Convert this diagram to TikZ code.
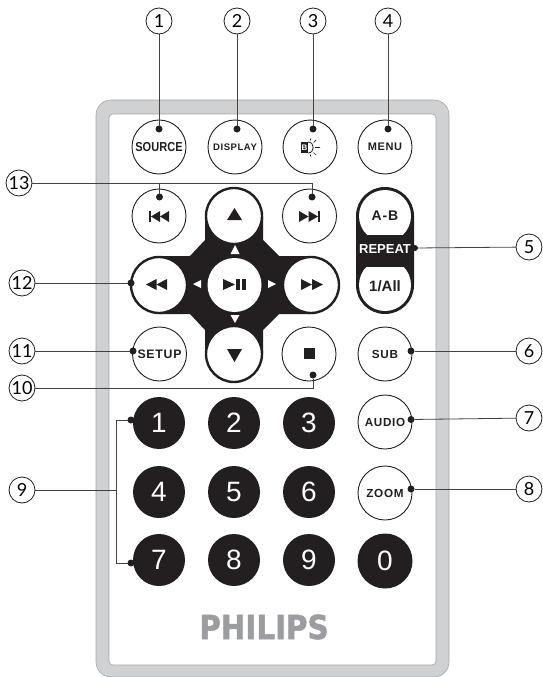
\documentclass[tikz,border=0pt]{standalone}
\usepackage{fontspec}
\setmainfont{Liberation Sans}
\newfontfamily\callfont{Lato}
\newfontfamily\brandfont[FakeBold=1.6]{DejaVu Sans Bold}
\newfontfamily\spacedfont[LetterSpace=6,BoldFont={Liberation Sans Bold}]{Liberation Sans}
\newcommand{\fsz}[1]{\fontsize{#1}{#1}\selectfont}
\definecolor{ink}{HTML}{231F20}
\definecolor{band}{HTML}{D0D1D3}
\definecolor{bandedge}{HTML}{A4A5A8}
\definecolor{brand}{HTML}{9B9DA0}
\tikzset{
  callout/.style={circle,draw=ink,line width=0.8pt,fill=white,minimum size=26pt,inner sep=0pt,outer sep=0pt,font=\callfont\fsz{18}},
  btn/.style={circle,draw=ink,line width=0.9pt,fill=white,minimum size=54pt,inner sep=0pt,outer sep=0pt,text=ink,font=\spacedfont\bfseries\fsz{11.7}},
  thickbtn/.style={btn,line width=2.4pt,minimum size=56pt},
  numbtn/.style={circle,fill=ink,minimum size=52pt,inner sep=0pt,outer sep=0pt,text=white,font=\fsz{28}},
  pin/.style={circle,fill=ink,minimum size=7pt,inner sep=0pt,outer sep=0pt},
  lead/.style={draw=ink!85,line width=0.8pt},
  glyph/.style={fill=ink,draw=none},
  wglyph/.style={fill=white,draw=none},
}
\begin{document}
\begin{tikzpicture}[x=1pt,y=-1pt]
\useasboundingbox (0,0) rectangle (542,677);
% body
\draw[draw=bandedge,fill=band,line width=0.6pt,rounded corners=15pt] (96,100) rectangle (449,677);
\draw[draw=bandedge,fill=white,line width=0.6pt,rounded corners=4pt] (109,114) rectangle (436,665);
% d-pad backing
\fill[ink] (205,216) -- (263,216) -- (263,240) -- (279,256) -- (311,256) -- (311,314) -- (279,314) -- (263,330) -- (263,354) -- (205,354) -- (205,330) -- (190,314) -- (159,314) -- (159,256) -- (190,256) -- (205,240) -- cycle;
% repeat key
\fill[ink,rounded corners=28.9pt] (356,187) rectangle (414,314);
\begin{scope}
  \clip (350,180) rectangle (420,234);
  \fill[white] (385,216) circle[radius=26];
\end{scope}
\begin{scope}
  \clip (350,267) rectangle (420,320);
  \fill[white] (385,285) circle[radius=26];
\end{scope}
\node[text=ink,font=\spacedfont\bfseries\fsz{14}] (ab) at (385,216) {A-B};
\node[text=white,font=\bfseries\fsz{13}] (repeat) at (385,249.5) {REPEAT};
\node[text=ink,font=\bfseries\fsz{15}] (onall) at (385,286) {1/All};
% keys
\node[btn,font=\bfseries\fsz{13}] (source) at (159,147) {\scalebox{0.85}[1]{SOURCE}};
\node[btn,font=\spacedfont\bfseries\fsz{9.5}] (display) at (235,147) {DISPLAY};
\node[btn] (light) at (310,147) {};
\node[btn,font=\spacedfont\bfseries\fsz{11}] (menu) at (385,147) {MENU};
\node[btn] (prev) at (159,216) {};
\node[thickbtn] (up) at (234,216) {};
\node[btn] (next) at (309.5,216) {};
\node[thickbtn] (left) at (159,285) {};
\node[btn,draw=none,minimum size=54pt] (play) at (234.5,285) {};
\node[thickbtn] (right) at (311,285) {};
\node[btn,font=\spacedfont\bfseries\fsz{12.3}] (setup) at (159.5,354) {SETUP};
\node[thickbtn] (down) at (234,354) {};
\node[btn] (stop) at (309,354) {};
\node[btn] (sub) at (385,354) {SUB};
\node[btn] (audio) at (385,422) {AUDIO};
\node[btn] (zoom) at (385,493) {ZOOM};
% number keys
\node[numbtn] (n1) at (159,423) {1};
\node[numbtn] (n2) at (234,423) {2};
\node[numbtn] (n3) at (309,423) {3};
\node[numbtn] (n4) at (159,492) {4};
\node[numbtn] (n5) at (234,492) {5};
\node[numbtn] (n6) at (309,492) {6};
\node[numbtn] (n7) at (159,560) {7};
\node[numbtn] (n8) at (234,560) {8};
\node[numbtn] (n9) at (309,560) {9};
\node[numbtn,minimum size=55pt] (n0) at (385,561) {0};
% brand
\node[text=brand,font=\brandfont\fsz{33}] (brandname) at (264,627) {\scalebox{0.89}[1]{PHILIPS}};
% glyphs
\fill[glyph] (301,142) rectangle (308,153);
\node[text=white,font=\bfseries\fsz{8}] (bulb) at (304.5,147.7) {B};
\draw[ink,line width=0.8pt] (308,142) .. controls (315,142) and (315,153) .. (308,153);
\draw[ink,line width=0.7pt] (313.5,142.5) -- (316,140) (315,147.5) -- (320,147.5) (313.5,152.5) -- (316,155) (310,140.5) -- (311,138.5) (310,154.5) -- (311,156.5);
\fill[glyph] (149,211) rectangle (151,222);
\fill[glyph] (160,211) -- (151,216.5) -- (160,222) -- cycle;
\fill[glyph] (169,211) -- (160,216.5) -- (169,222) -- cycle;
\fill[glyph] (318,211) rectangle (320,222);
\fill[glyph] (299,211) -- (308.5,216.5) -- (299,222) -- cycle;
\fill[glyph] (308.5,211) -- (318,216.5) -- (308.5,222) -- cycle;
\fill[glyph] (227,220) -- (234.5,208) -- (242,220) -- cycle;
\fill[glyph] (227,349) -- (242,349) -- (234.5,362) -- cycle;
\fill[glyph] (304,348) rectangle (315,358.5);
\fill[glyph] (156.5,279) -- (146,284.5) -- (156.5,290) -- cycle;
\fill[glyph] (167,279) -- (156.5,284.5) -- (167,290) -- cycle;
\fill[glyph] (301,279) -- (312,284.5) -- (301,290) -- cycle;
\fill[glyph] (312,279) -- (323,284.5) -- (312,290) -- cycle;
\fill[glyph] (223,279) -- (235,284.5) -- (223,290) -- cycle;
\fill[glyph] (236,279) rectangle (239.5,290);
\fill[glyph] (242,279) rectangle (246,290);
\fill[wglyph] (230.5,254) -- (235,245) -- (239.5,254) -- cycle;
\fill[wglyph] (230.5,315) -- (239.5,315) -- (235,323) -- cycle;
\fill[wglyph] (201,280) -- (193,284) -- (201,288) -- cycle;
\fill[wglyph] (268,280) -- (276,284) -- (268,288) -- cycle;
% callouts
\node[callout] (c1) at (159,21) {1};
\node[callout] (c2) at (237,21) {2};
\node[callout] (c3) at (313,21) {3};
\node[callout] (c4) at (388,21) {4};
\node[callout] (c5) at (529,247) {5};
\node[callout] (c6) at (529,351) {6};
\node[callout] (c7) at (529,418) {7};
\node[callout] (c8) at (529,489) {8};
\node[callout] (c9) at (22,490) {9};
\node[callout] (c10) at (22,388) {10};
\node[callout] (c11) at (22,351) {11};
\node[callout] (c12) at (22,283) {12};
\node[callout] (c13) at (19,183) {13};
% pins
\node[pin] (p1) at (159,129) {};
\node[pin] (p2) at (237,129) {};
\node[pin] (p3) at (313,129) {};
\node[pin] (p4) at (388,129) {};
\node[pin,minimum size=6pt] (p5) at (415,248) {};
\node[pin] (p6) at (411,351) {};
\node[pin] (p7) at (411,419.5) {};
\node[pin] (p8) at (411,489) {};
\node[pin] (p9a) at (131,420) {};
\node[pin] (p9b) at (131,563) {};
\node[pin] (p10) at (313,375) {};
\node[pin] (p11) at (133,351) {};
\node[pin] (p12) at (131,283) {};
\node[pin] (p13a) at (159.5,197) {};
\node[pin] (p13b) at (312,197) {};
\coordinate (j9a) at (116,420);
\coordinate (j9b) at (116,563);
\coordinate (j9m) at (116,490);
\coordinate (j10) at (313,388);
\coordinate (j13a) at (159.5,183);
\coordinate (j13b) at (312,183);
% leaders
\draw[lead] (c1) -- (p1);
\draw[lead] (c2) -- (p2);
\draw[lead] (c3) -- (p3);
\draw[lead] (c4) -- (p4);
\draw[lead] (c5) -- (p5);
\draw[lead] (c6) -- (p6);
\draw[lead] (c7) -- (p7);
\draw[lead] (c8) -- (p8);
\draw[lead] (c9) -- (j9m);
\draw[lead] (p9a) -- (j9a) -- (j9b) -- (p9b);
\draw[lead] (c10) -- (j10) -- (p10);
\draw[lead] (c11) -- (p11);
\draw[lead] (c12) -- (p12);
\draw[lead] (c13) -- (j13b) -- (p13b);
\draw[lead] (j13a) -- (p13a);
\end{tikzpicture}
\end{document}
